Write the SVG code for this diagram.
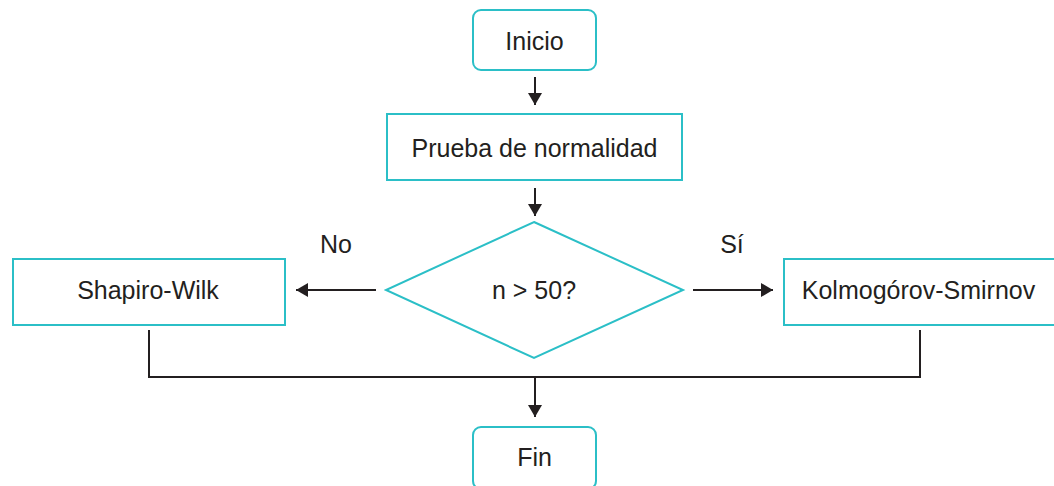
<svg xmlns="http://www.w3.org/2000/svg" width="1054" height="486" viewBox="0 0 1054 486">
<defs>
<marker id="ah" viewBox="0 0 12 14" refX="12" refY="7" markerWidth="12" markerHeight="14" markerUnits="userSpaceOnUse" orient="auto">
<path d="M0,0 L12,7 L0,14 Z" fill="#231f20"/>
</marker>
<style>
.box{fill:#fff;stroke:#2bbfc7;stroke-width:2}
.t{font-family:"Liberation Sans",Arial,sans-serif;font-size:25px;fill:#231f20;text-anchor:middle}
.c{fill:none;stroke:#231f20;stroke-width:2}
</style>
</defs>
<rect width="1054" height="486" fill="#fff"/>
<g id="connectors">
<line class="c" x1="535" y1="77" x2="535" y2="105" marker-end="url(#ah)"/>
<line class="c" x1="535" y1="188" x2="535" y2="216" marker-end="url(#ah)"/>
<line class="c" x1="376" y1="290" x2="296" y2="290" marker-end="url(#ah)"/>
<line class="c" x1="693" y1="290" x2="773" y2="290" marker-end="url(#ah)"/>
<polyline class="c" points="149,330 149,377 920,377 920,330"/>
<line class="c" x1="535" y1="377" x2="535" y2="417" marker-end="url(#ah)"/>
<text class="t" x="336" y="253">No</text>
<text class="t" x="732" y="253">Sí</text>
</g>
<g id="inicio">
<rect class="box" x="473" y="10" width="123" height="60" rx="8"/>
<text class="t" x="534.5" y="50">Inicio</text>
</g>
<g id="prueba">
<rect class="box" x="387" y="114" width="295" height="66"/>
<text class="t" x="534.5" y="157">Prueba de normalidad</text>
</g>
<g id="decision">
<polygon class="box" points="534,222 683,290 534,358 386,290"/>
<text class="t" x="534" y="299">n &gt; 50?</text>
</g>
<g id="shapiro">
<rect class="box" x="13" y="259" width="272" height="66"/>
<text class="t" x="148" y="299">Shapiro-Wilk</text>
</g>
<g id="kolmogorov">
<rect class="box" x="784" y="259" width="276" height="66"/>
<text class="t" x="918.5" y="299">Kolmogórov-Smirnov</text>
</g>
<g id="fin">
<rect class="box" x="473" y="427" width="123" height="62" rx="8"/>
<text class="t" x="534.5" y="466">Fin</text>
</g>
</svg>
